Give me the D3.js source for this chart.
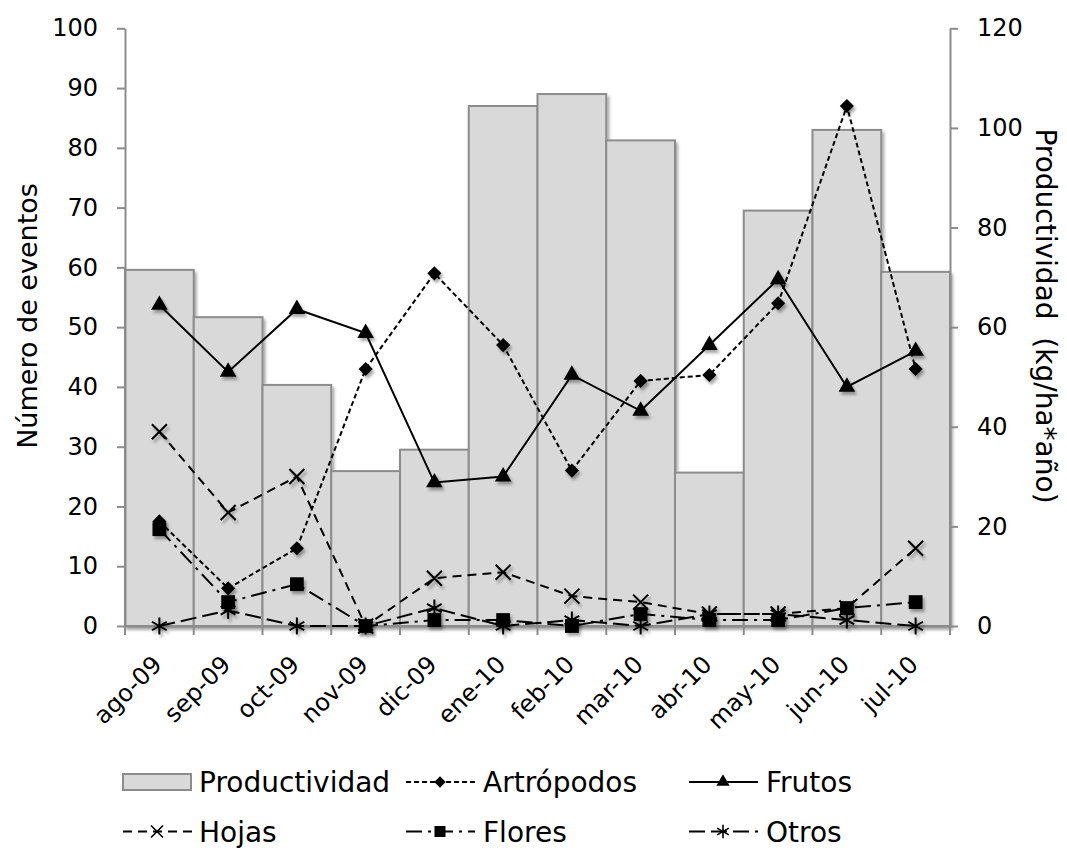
<!DOCTYPE html>
<html>
<head>
<meta charset="utf-8">
<script src="https://cdn.jsdelivr.net/npm/d3@7"></script>
<style>
body { margin: 0; background: #fff; }
text { font-family: "DejaVu Sans", Verdana, sans-serif; fill: #000; }
</style>
</head>
<body>
<script>
// months on the x axis
var months = ["ago-09", "sep-09", "oct-09", "nov-09", "dic-09", "ene-10", "feb-10", "mar-10", "abr-10", "may-10", "jun-10", "jul-10"]

// bars, right axis (kg/ha*año)
var productividad = [71.5, 62.0, 48.4, 31.1, 35.4, 104.4, 106.8, 97.5, 30.8, 83.4, 99.6, 71.1]

// lines, left axis (Número de eventos)
var artropodos = [17.5, 6.3, 13, 43, 59, 47, 26, 41, 42, 54, 87, 43]
var frutos = [53.7, 42.5, 53, 49, 24, 25, 42, 36, 47, 58, 40, 46]
var hojas = [32.5, 19, 25, 0, 8, 9, 5, 4, 2, 2, 3, 13]
var flores = [16.2, 4, 7, 0, 1, 1, 0, 2, 1, 1, 3, 4]
var otros = [0, 2.6, 0, 0, 3, 0, 1, 0, 2, 2, 1, 0]

var leftTicks = d3.range(0, 101, 10)
var rightTicks = d3.range(0, 121, 20)

var width = 1067, height = 848
var plot = {left: 125, right: 950, top: 28.3, bottom: 626}

var svg = d3.select("body").append("svg").attr("width", width).attr("height", height)

// soft shadow like the office chart
var filt = svg.append("defs").append("filter").attr("id", "shadow")
    .attr("x", "-50%").attr("y", "-50%").attr("width", "200%").attr("height", "200%")
filt.append("feDropShadow").attr("dx", 2).attr("dy", 3).attr("stdDeviation", 1.8)
    .attr("flood-color", "#000").attr("flood-opacity", 0.35)

var x = d3.scaleBand().domain(months).range([plot.left, plot.right]).padding(0)
var y = d3.scaleLinear().domain([0, 100]).range([plot.bottom, plot.top])
var y2 = d3.scaleLinear().domain([0, 120]).range([plot.bottom, plot.top])
var cx = function(m) { return x(m) + x.bandwidth() / 2 }

// bars
svg.append("g").attr("filter", "url(#shadow)")
    .selectAll("rect").data(months).enter().append("rect")
    .attr("x", function(d) { return x(d) })
    .attr("y", function(d, i) { return y2(productividad[i]) })
    .attr("width", x.bandwidth())
    .attr("height", function(d, i) { return plot.bottom - y2(productividad[i]) })
    .attr("fill", "#d9d9d9").attr("stroke", "#8c8c8c").attr("stroke-width", 2)

// axes
function styleAxis(g, size) {
    g.attr("font-family", null).attr("font-size", null)
    g.select(".domain").attr("stroke", "#8c8c8c").attr("stroke-width", 2)
    g.selectAll(".tick line").attr("stroke", "#8c8c8c").attr("stroke-width", 2)
    g.selectAll("text").style("font-size", size + "px")
}

var gl = svg.append("g").attr("transform", "translate(" + plot.left + ",0)")
    .call(d3.axisLeft(y).tickValues(leftTicks).tickSize(8).tickSizeOuter(0).tickPadding(19))
styleAxis(gl, 24)

var gr = svg.append("g").attr("transform", "translate(" + plot.right + ",0)")
    .call(d3.axisRight(y2).tickValues(rightTicks).tickSize(8).tickSizeOuter(0).tickPadding(19))
styleAxis(gr, 24)

var gx = svg.append("g").attr("transform", "translate(0," + plot.bottom + ")")
    .call(d3.axisBottom(x).tickSize(0).tickSizeOuter(0).tickPadding(0))
styleAxis(gx, 24)
gx.selectAll("text").attr("text-anchor", "end").attr("x", 0).attr("y", 0).attr("dy", 0)
    .attr("transform", "translate(4,40) rotate(-45)")
// category boundary ticks
gx.selectAll(".bound").data(months.concat(["end"])).enter().append("line")
    .attr("x1", function(d) { return d == "end" ? plot.right : x(d) })
    .attr("x2", function(d) { return d == "end" ? plot.right : x(d) })
    .attr("y1", 0).attr("y2", 9)
    .attr("stroke", "#8c8c8c").attr("stroke-width", 2)

// axis titles
svg.append("text").attr("transform", "translate(37," + 316 + ") rotate(-90)")
    .attr("text-anchor", "middle").style("font-size", "27px").text("Número de eventos")
svg.append("text").attr("transform", "translate(1036," + 316 + ") rotate(90)")
    .attr("text-anchor", "middle").style("font-size", "28px").style("white-space", "pre")
    .text("Productividad  (kg/ha*año)")

// marker shapes
function xPath(r) { return "M" + (-r) + "," + (-r) + "L" + r + "," + r + "M" + (-r) + "," + r + "L" + r + "," + (-r) }
function starPath(r) {
    var p = ""
    ;[90, 30, 150].forEach(function(a) {
        var dx = r * Math.cos(a * Math.PI / 180), dy = r * Math.sin(a * Math.PI / 180)
        p += "M" + (-dx) + "," + (-dy) + "L" + dx + "," + dy
    })
    return p
}
var markers = {
    diamond: {d: d3.symbol().type(d3.symbolSquare).size(100)(), rot: 45, fill: true},
    triangle: {d: d3.symbol().type(d3.symbolTriangle).size(120)(), rot: 0, fill: true},
    square: {d: d3.symbol().type(d3.symbolSquare).size(190)(), rot: 0, fill: true},
    x: {d: xPath(7.5), rot: 0, fill: false},
    star: {d: starPath(8.5), rot: 0, fill: false}
}

var series = [
    {name: "Artrópodos", values: artropodos, dash: "5,3", marker: "diamond"},
    {name: "Frutos", values: frutos, dash: null, marker: "triangle"},
    {name: "Hojas", values: hojas, dash: "9,6", marker: "x"},
    {name: "Flores", values: flores, dash: "16,6,3,6", marker: "square"},
    {name: "Otros", values: otros, dash: "16,6", marker: "star"}
]

var line = d3.line().x(function(d) { return cx(d.m) }).y(function(d) { return y(d.v) })

function drawMarker(g, type, px, py) {
    var mk = markers[type]
    g.append("path").attr("d", mk.d)
        .attr("transform", "translate(" + px + "," + py + ") rotate(" + mk.rot + ")")
        .attr("fill", mk.fill ? "#000" : "none")
        .attr("stroke", "#000").attr("stroke-width", mk.fill ? 0 : 2)
}

series.forEach(function(s) {
    var pts = months.map(function(m, i) { return {m: m, v: s.values[i]} })
    svg.append("path").datum(pts).attr("d", line)
        .attr("fill", "none").attr("stroke", "#000").attr("stroke-width", 2)
        .attr("stroke-dasharray", s.dash)
    var mg = svg.append("g").attr("filter", "url(#shadow)")
    pts.forEach(function(p) { drawMarker(mg, s.marker, cx(p.m), y(p.v)) })
})

// legend
var legendItems = [{name: "Productividad", bar: true}].concat(series)
var colX = [123, 406, 689]
var rowY = [782, 831.5]
legendItems.forEach(function(item, i) {
    var lx = colX[i % 3], ly = rowY[Math.floor(i / 3)]
    var g = svg.append("g")
    if (item.bar) {
        g.append("rect").attr("x", lx).attr("y", ly - 8).attr("width", 68).attr("height", 16)
            .attr("fill", "#d9d9d9").attr("stroke", "#8c8c8c").attr("stroke-width", 2)
    } else {
        g.append("line").attr("x1", lx).attr("x2", lx + 69).attr("y1", ly).attr("y2", ly)
            .attr("stroke", "#000").attr("stroke-width", 2).attr("stroke-dasharray", item.dash)
        var mk = markers[item.marker]
        g.append("path").attr("d", mk.d)
            .attr("transform", "translate(" + (lx + 34) + "," + ly + ") rotate(" + mk.rot + ") scale(0.8)")
            .attr("fill", mk.fill ? "#000" : "none")
            .attr("stroke", "#000").attr("stroke-width", mk.fill ? 0 : 2)
    }
    g.append("text").attr("x", i % 3 == 0 ? lx + 76 : lx + 77).attr("y", ly + 10)
        .style("font-size", "28px").text(item.name)
})
</script>
</body>
</html>
